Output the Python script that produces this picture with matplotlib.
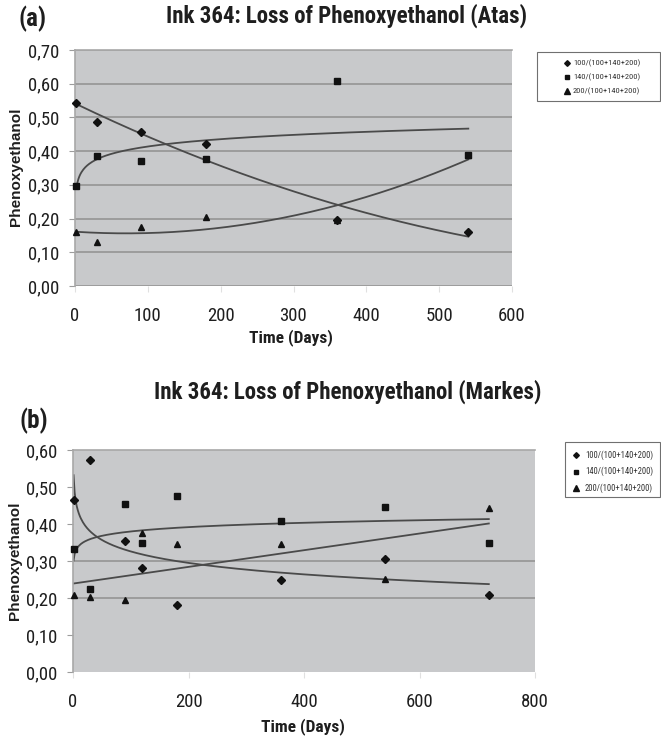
import numpy as np
import matplotlib
matplotlib.use('Agg')
import matplotlib.pyplot as plt
from matplotlib import font_manager as fm
from matplotlib.lines import Line2D
from matplotlib.patches import Rectangle
from matplotlib.ticker import FuncFormatter


def pick(names):
    avail = {f.name for f in fm.fontManager.ttflist}
    for n in names:
        if n in avail:
            return n
    return 'DejaVu Sans'


NARROW = pick(['Liberation Sans Narrow', 'Arial Narrow', 'Roboto Condensed', 'Liberation Sans'])
SANS = pick(['Liberation Sans', 'Arial', 'DejaVu Sans'])

# ---------------- data ----------------
series_labels = ['100/(100+140+200)', '140/(100+140+200)', '200/(100+140+200)']

days_a = [2, 30, 90, 180, 360, 540]
atas_100 = [0.543, 0.485, 0.457, 0.421, 0.196, 0.161]
atas_140 = [0.298, 0.386, 0.370, 0.377, 0.609, 0.390]
atas_200 = [0.160, 0.130, 0.176, 0.206, 0.196, 0.390]
trend_a = ['poly2', 'log', 'poly2']

days_b = [1, 30, 90, 120, 180, 360, 540, 720]
markes_100 = [0.466, 0.572, 0.354, 0.282, 0.181, 0.249, 0.305, 0.207]
markes_140 = [0.332, 0.225, 0.453, 0.348, 0.476, 0.407, 0.445, 0.349]
markes_200 = [0.207, 0.203, 0.195, 0.377, 0.347, 0.347, 0.252, 0.444]
trend_b = ['log', 'log', 'linear']

title_a = 'Ink 364: Loss of Phenoxyethanol (Atas)'
title_b = 'Ink 364: Loss of Phenoxyethanol (Markes)'
xlabel = 'Time (Days)'
ylabel = 'Phenoxyethanol'
xticks_a = [0, 100, 200, 300, 400, 500, 600]
yticks_a = [0.0, 0.1, 0.2, 0.3, 0.4, 0.5, 0.6, 0.7]
xticks_b = [0, 200, 400, 600, 800]
yticks_b = [0.0, 0.1, 0.2, 0.3, 0.4, 0.5, 0.6]
grid_b = [0.2, 0.3]

markers = ['D', 's', '^']
msizes = [3.6, 3.8, 4.6]
mzorder = [3, 3, 4]

BG = '#c8c9cb'
GRID = '#9c9c9c'
LINE = '#4a4a4a'
TXT = '#1e1e1e'

W, H = 661, 739
fig = plt.figure(figsize=(W / 100, H / 100), dpi=100)


def fx(x):
    return x / W


def fy(y):
    return 1 - y / H


def fig_rect(x0, y0, x1, y1):
    return [x0 / W, 1 - y1 / H, (x1 - x0) / W, (y1 - y0) / H]


def trend(x, y, kind):
    x = np.asarray(x, float)
    y = np.asarray(y, float)
    xs = np.linspace(x.min(), x.max(), 400)
    if kind == 'log':
        b, a = np.polyfit(np.log(x), y, 1)
        return xs, a + b * np.log(xs)
    if kind == 'poly2':
        p = np.polyfit(x, y, 2)
        return xs, np.polyval(p, xs)
    p = np.polyfit(x, y, 1)
    return xs, np.polyval(p, xs)


comma = FuncFormatter(lambda v, p: f'{v:.2f}'.replace('.', ','))


def panel(rect, days, ys, trends, xt, yt, grid, xlim, ylim):
    ax = fig.add_axes(rect)
    ax.set_facecolor(BG)
    for g in grid:
        ax.axhline(g, color=GRID, lw=1.4, zorder=1)
    for y, kind in zip(ys, trends):
        xs, yy = trend(days, y, kind)
        ax.plot(xs, yy, color=LINE, lw=1.3, zorder=2)
    for y, m, ms, z in zip(ys, markers, msizes, mzorder):
        ax.plot(days, y, linestyle='none', marker=m, ms=ms, color='#111111',
                zorder=z, clip_on=False)
    ax.set_xlim(*xlim)
    ax.set_ylim(*ylim)
    ax.set_xticks(xt)
    ax.set_yticks(yt)
    ax.yaxis.set_major_formatter(comma)
    for s in ['right', 'bottom']:
        ax.spines[s].set_visible(False)
    ax.spines['left'].set_color('#a8a8a8')
    ax.spines['top'].set_color('#a8a8a8')
    ax.spines['left'].set_linewidth(1.2)
    ax.spines['top'].set_linewidth(1.2)
    ax.tick_params(axis='x', length=4, color='#e0e0e0', pad=11, labelsize=13.5,
                   labelcolor=TXT)
    ax.tick_params(axis='y', length=4, color=GRID, pad=7, labelsize=13.5,
                   labelcolor=TXT)
    for lab in ax.get_xticklabels() + ax.get_yticklabels():
        lab.set_family(NARROW)
    return ax


ax_a = panel(fig_rect(75, 50, 512, 286), days_a, [atas_100, atas_140, atas_200],
             trend_a, xticks_a, yticks_a, yticks_a, (0, 600), (0, 0.7))
ax_b = panel(fig_rect(73, 450, 535, 672), days_b, [markes_100, markes_140, markes_200],
             trend_b, xticks_b, yticks_b, grid_b, (0, 800), (0, 0.6))

# titles and panel letters
fig.text(fx(346), fy(16), title_a, ha='center', va='center', family=NARROW,
         weight='bold', fontsize=16.5, color=TXT)
fig.text(fx(348), fy(392), title_b, ha='center', va='center', family=NARROW,
         weight='bold', fontsize=16.5, color=TXT)
fig.text(fx(33), fy(19), '(a)', ha='center', va='center', family=NARROW,
         weight='bold', fontsize=18, color=TXT)
fig.text(fx(34), fy(421), '(b)', ha='center', va='center', family=NARROW,
         weight='bold', fontsize=18, color=TXT)

# axis labels
fig.text(fx(291), fy(338), xlabel, ha='center', va='center', family=NARROW,
         weight='bold', fontsize=12.5, color=TXT)
fig.text(fx(303), fy(727), xlabel, ha='center', va='center', family=NARROW,
         weight='bold', fontsize=12.5, color=TXT)
fig.text(fx(16), fy(167), ylabel, ha='center', va='center', rotation=90,
         family=SANS, weight='bold', fontsize=11, color=TXT)
fig.text(fx(15), fy(561), ylabel, ha='center', va='center', rotation=90,
         family=SANS, weight='bold', fontsize=11, color=TXT)


# legends (drawn by hand to match the boxed layout)
def add_legend(x0, y0, x1, y1, rows, mx, tx, size):
    fig.patches.append(Rectangle((fx(x0), fy(y1)), fx(x1) - fx(x0), fy(y0) - fy(y1),
                                 transform=fig.transFigure, facecolor='white',
                                 edgecolor='#707070', lw=0.8))
    for ry, m, ms, lab in zip(rows, markers, msizes, series_labels):
        fig.lines.append(Line2D([fx(mx)], [fy(ry)], transform=fig.transFigure,
                                linestyle='none', marker=m, ms=ms * 0.8,
                                color='#111111'))
        fig.text(fx(tx), fy(ry), lab, ha='left', va='center', family=NARROW,
                 fontsize=size, color='#333333')


add_legend(537, 52, 660, 101, [63, 77, 91], 567, 573, 6.0)
add_legend(565, 442, 660, 497, [455, 471.5, 488], 576, 585, 6.2)

fig.savefig('out.png', dpi=100, facecolor='white')
